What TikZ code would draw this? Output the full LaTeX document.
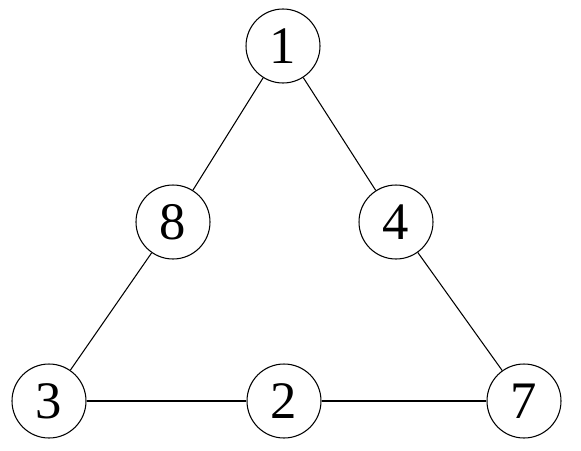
\documentclass[tikz,border=0pt]{standalone}
\usepackage{fontspec}
\setmainfont{Liberation Serif}
\begin{document}
\begin{tikzpicture}[x=0.02cm,y=-0.02cm,
		numcirc/.style={draw,circle,minimum size=74*0.02cm,inner sep=0pt,line width=0.6pt,font=\fontsize{30}{34}\selectfont}]
				\useasboundingbox (0,0) rectangle (581,450);
				\node[numcirc] (n1) at (283,46) {1};
				\node[numcirc] (n8) at (173,222) {8};
				\node[numcirc] (n4) at (396,222) {4};
				\node[numcirc] (n3) at (49,401) {3};
				\node[numcirc] (n2) at (284,401) {2};
				\node[numcirc] (n7) at (524,401) {7};
				\draw[line width=0.6pt] (n1) -- (n8);
				\draw[line width=0.6pt] (n8) -- (n3);
				\draw[line width=0.6pt] (n1) -- (n4);
				\draw[line width=0.6pt] (n4) -- (n7);
				\draw[line width=0.6pt] (n3) -- (n2);
				\draw[line width=0.6pt] (n2) -- (n7);
			\end{tikzpicture}
\end{document}
